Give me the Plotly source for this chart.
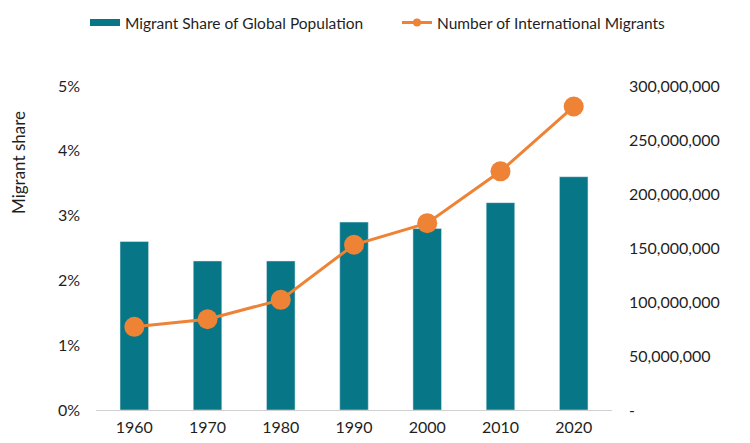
import plotly.graph_objects as go

# values
years = ["1960", "1970", "1980", "1990", "2000", "2010", "2020"]
migrant_share = [0.026, 0.023, 0.023, 0.029, 0.028, 0.032, 0.036]
migrants = [77_000_000, 84_000_000, 102_000_000, 153_000_000, 173_000_000, 221_000_000, 281_000_000]

right_ticks = [0, 50_000_000, 100_000_000, 150_000_000, 200_000_000, 250_000_000, 300_000_000]
right_labels = ["-", "50,000,000", "100,000,000", "150,000,000", "200,000,000", "250,000,000", "300,000,000"]

teal = "#077787"
orange = "#EE8235"

fig = go.Figure()

fig.add_trace(go.Bar(
    x=years,
    y=migrant_share,
    name="Migrant Share of Global Population",
    marker_color=teal,
    width=0.39,
    showlegend=False,
))

fig.add_trace(go.Scatter(
    x=years,
    y=migrants,
    name="Number of International Migrants",
    mode="lines+markers",
    line=dict(color=orange, width=3),
    marker=dict(color=orange, size=20),
    yaxis="y2",
    showlegend=False,
))

# legend-only entries so the keys look like the original (flat block, small dot)
fig.add_trace(go.Scatter(
    x=[None], y=[None],
    name="Migrant Share of Global Population",
    mode="lines",
    line=dict(color=teal, width=7),
    legend="legend",
))
fig.add_trace(go.Scatter(
    x=[None], y=[None],
    name="Number of International Migrants",
    mode="lines+markers",
    line=dict(color=orange, width=3),
    marker=dict(color=orange, size=8),
    legend="legend2",
))

legend_style = dict(
    orientation="h",
    xref="container", yref="container",
    xanchor="left",
    y=0.965, yanchor="middle",
    font=dict(size=15.5),
    bgcolor="rgba(0,0,0,0)",
)

# page body has an 8px margin, so the figure is 16px smaller than the window
fig.update_layout(
    width=734,
    height=427,
    margin=dict(l=88, r=130, t=78, b=25, autoexpand=False),
    paper_bgcolor="white",
    plot_bgcolor="white",
    font=dict(family="Lato", size=16, color="#1f1f1f"),
    showlegend=True,
    legend=dict(legend_style, x=77 / 734),
    legend2=dict(legend_style, x=389 / 734),
    xaxis=dict(
        type="category",
        showgrid=False,
        showline=True,
        linecolor="#d0d0d0",
        linewidth=1,
        ticks="",
        ticklabelstandoff=3,
        automargin=False,
    ),
    yaxis=dict(
        range=[0, 0.05],
        dtick=0.01,
        tickformat=".0%",
        showgrid=False,
        zeroline=False,
        ticks="",
        ticklabelstandoff=15,
        automargin=False,
    ),
    yaxis2=dict(
        overlaying="y",
        side="right",
        range=[0, 300_000_000],
        tickvals=right_ticks,
        ticktext=right_labels,
        showgrid=False,
        zeroline=False,
        ticks="",
        ticklabelstandoff=16,
        automargin=False,
    ),
    annotations=[dict(
        text="Migrant share",
        textangle=-90,
        xref="paper", yref="paper",
        x=(10 - 88) / 516, y=(402 - 155) / 324,
        xanchor="center", yanchor="middle",
        showarrow=False,
        font=dict(size=17),
    )],
)

fig.write_html("out.html")
